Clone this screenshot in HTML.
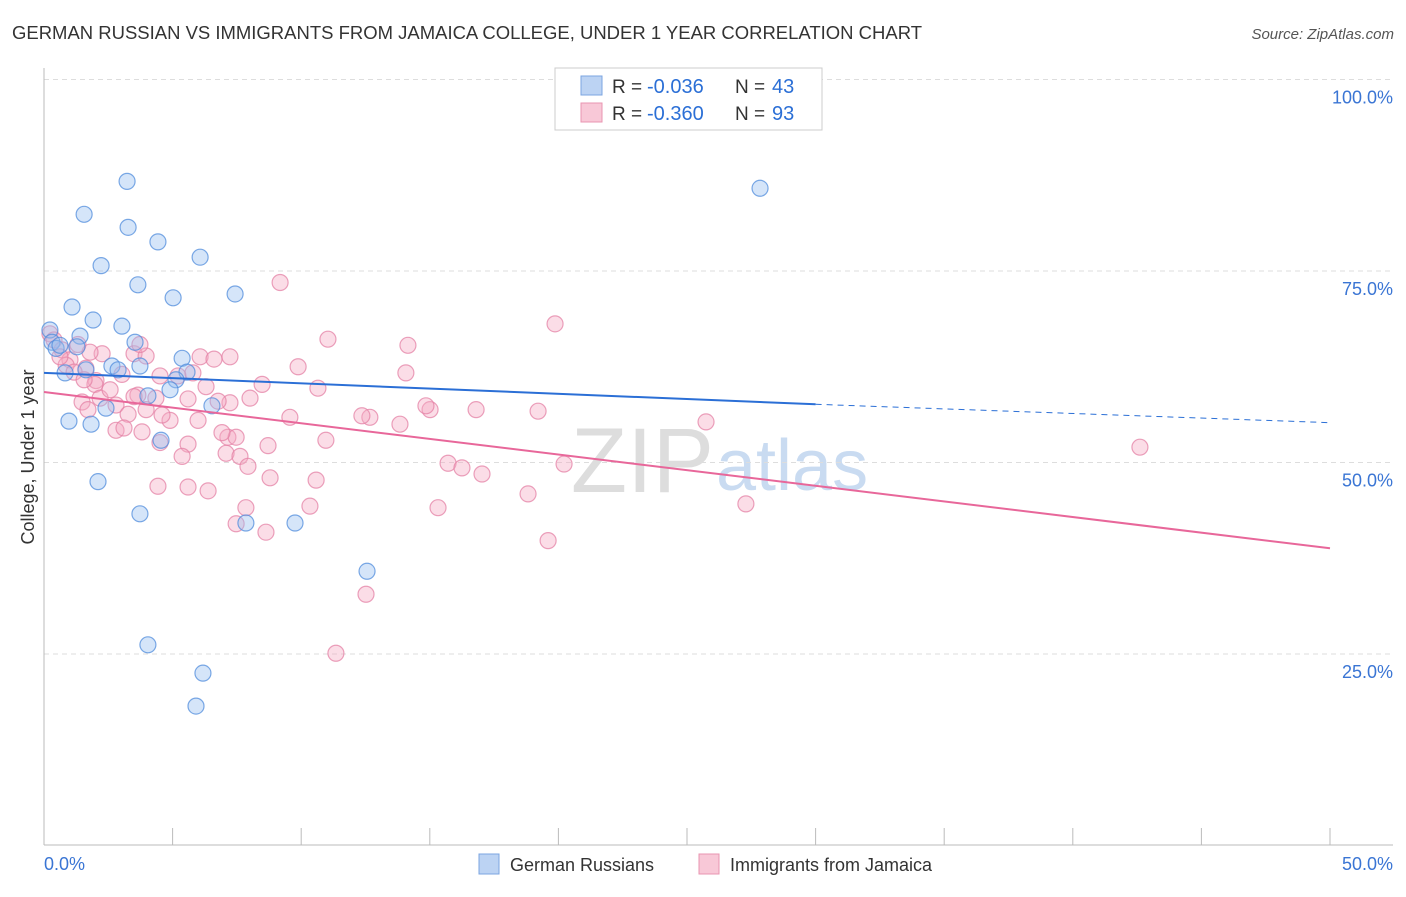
<!DOCTYPE html>
<html><head><meta charset="utf-8"><style>
body{margin:0;background:#fff;font-family:"Liberation Sans",sans-serif}
svg text{font-family:"Liberation Sans",sans-serif}
</style></head><body>
<svg id="chart" width="1406" height="892">
<text x="12" y="39" font-size="18" fill="#333" textLength="910" lengthAdjust="spacingAndGlyphs">GERMAN RUSSIAN VS IMMIGRANTS FROM JAMAICA COLLEGE, UNDER 1 YEAR CORRELATION CHART</text>
<text x="1394" y="39" font-size="15" fill="#555" font-style="italic" text-anchor="end">Source: ZipAtlas.com</text>
<text x="0" y="0" transform="translate(34,457) rotate(-90)" font-size="18" fill="#333" text-anchor="middle">College, Under 1 year</text>
<text x="714" y="492" font-size="92" fill="#ddd" text-anchor="end" font-family="Liberation Serif">ZIP</text>
<text x="716" y="490" font-size="72" fill="#c9dbf1">atlas</text>
<g id="grid"></g><g id="pts"></g><g id="lines"></g>
<g>
<rect x="555" y="68" width="267" height="62" fill="#fff" stroke="#ccc"/>
<rect x="581" y="76" width="21" height="19" fill="#bcd3f3" stroke="#7ba5e0"/>
<rect x="581" y="103" width="21" height="19" fill="#f8c8d7" stroke="#e995b0"/>
<text x="612" y="93" font-size="19" fill="#333">R =</text>
<text x="647" y="93" font-size="20" fill="#2b6fd6">-0.036</text>
<text x="735" y="93" font-size="19" fill="#333">N =</text>
<text x="772" y="93" font-size="20" fill="#2b6fd6">43</text>
<text x="612" y="120" font-size="19" fill="#333">R =</text>
<text x="647" y="120" font-size="20" fill="#2b6fd6">-0.360</text>
<text x="735" y="120" font-size="19" fill="#333">N =</text>
<text x="772" y="120" font-size="20" fill="#2b6fd6">93</text>
</g>
<g>
<rect x="479" y="854" width="20" height="20" fill="#bcd3f3" stroke="#7ba5e0"/>
<text x="510" y="871" font-size="18" fill="#333">German Russians</text>
<rect x="699" y="854" width="20" height="20" fill="#f8c8d7" stroke="#e995b0"/>
<text x="730" y="871" font-size="18" fill="#333">Immigrants from Jamaica</text>
</g>
</svg>
<script>
const yTicks=[25,50,75,100];
const xTickLabels=["0.0%","50.0%"];
const blueX=[3.23,1.56,3.27,4.43,6.07,2.22,3.65,5.02,7.43,1.09,1.91,3.03,0.23,1.40,3.54,0.31,1.28,0.47,5.37,2.64,1.63,0.82,3.73,2.88,5.56,5.13,4.90,4.04,6.53,2.41,0.97,1.83,4.55,2.10,3.73,7.85,9.76,12.56,4.04,6.18,5.91,27.84,0.62];
const blueY=[86.7,82.4,80.7,78.8,76.8,75.7,73.2,71.5,72.0,70.3,68.6,67.8,67.3,66.5,65.7,65.7,65.1,64.9,63.6,62.6,62.1,61.7,62.6,62.1,61.8,60.8,59.5,58.7,57.4,57.1,55.4,55.0,52.9,47.5,43.3,42.1,42.1,35.8,26.2,22.5,18.2,85.8,65.3];
const pinkX=[9.18,19.87,11.04,14.15,0.23,0.39,0.70,2.26,3.50,3.97,6.07,6.61,7.23,9.88,14.07,1.01,0.86,1.63,1.17,3.03,4.51,5.21,5.79,2.02,1.98,8.48,10.65,6.30,3.65,5.60,2.18,2.80,3.50,4.35,7.23,8.01,6.77,1.48,1.71,3.27,3.97,9.56,12.67,12.36,13.84,15.01,14.85,16.80,19.21,25.74,5.99,4.90,4.59,2.80,3.11,3.81,7.15,7.47,6.92,10.96,8.71,5.60,4.51,5.37,7.08,7.62,7.93,15.71,16.25,17.03,20.22,8.79,10.58,4.43,5.60,6.38,10.34,7.85,15.32,18.82,27.29,7.47,8.63,19.60,12.52,11.35,42.61,1.56,2.57,0.62,1.79,1.32,3.73];
const pinkY=[73.5,68.1,66.1,65.3,66.8,66.0,64.7,64.2,64.2,63.9,63.8,63.5,63.8,62.5,61.7,63.4,62.7,62.3,61.8,61.5,61.3,61.3,61.7,60.7,60.2,60.2,59.7,59.9,58.8,58.3,58.4,57.5,58.6,58.4,57.8,58.4,58.0,57.9,56.9,56.3,56.9,55.9,55.9,56.1,55.0,56.9,57.4,56.9,56.7,55.3,55.5,55.5,56.2,54.2,54.5,54.0,53.3,53.3,53.9,52.9,52.2,52.4,52.6,50.8,51.2,50.8,49.5,49.9,49.3,48.5,49.8,48.0,47.7,46.9,46.8,46.3,44.3,44.1,44.1,45.9,44.6,42.0,40.9,39.8,32.8,25.1,52.0,60.8,59.5,63.8,64.4,65.4,65.4];
const blueTrend=[61.7,57.6,55.2];
const pinkTrend=[59.2,38.8];
const NS="http://www.w3.org/2000/svg";
const sx=v=>44+v*25.72, sy=v=>845.5-v*7.66;
function mk(t,a,p){const e=document.createElementNS(NS,t);for(const k in a)e.setAttribute(k,a[k]);p.appendChild(e);return e;}
const grid=document.getElementById('grid');
yTicks.forEach(t=>{
 const l=mk('line',{x1:44,x2:1393,y1:sy(t),y2:sy(t),stroke:'#ddd','stroke-dasharray':'5,4'},grid);
 
 
 const tx=mk('text',{x:1393,y:sy(t)+24,'font-size':18,fill:'#3a75d4','text-anchor':'end'},grid);
 tx.textContent=t.toFixed(1)+'%';
 
 
});
mk('line',{x1:44,x2:44,y1:68,y2:845,stroke:'#bbb'},grid);
mk('line',{x1:44,x2:1393,y1:845,y2:845,stroke:'#bbb'},grid);
for(let i=0;i<=10;i++){const t=mk('line',{x1:sx(i*5),x2:sx(i*5),y1:828,y2:845,stroke:'#bbb'},grid);
 
 }
[[0,'start'],[50,'end']].forEach((d,i)=>{const t=mk('text',{x:d[0]?1393:44,y:870,'font-size':18,fill:'#3a75d4','text-anchor':d[1]},grid);t.textContent=xTickLabels[i];
 
 });
const pts=document.getElementById('pts');
pinkX.forEach((x,i)=>{const c=mk('circle',{cx:sx(x),cy:sy(pinkY[i]),r:8,fill:'rgba(244,170,195,0.4)',stroke:'rgba(228,130,165,0.75)','stroke-width':1.2},pts);
 
 });
blueX.forEach((x,i)=>{const c=mk('circle',{cx:sx(x),cy:sy(blueY[i]),r:8,fill:'rgba(150,190,240,0.4)',stroke:'rgba(80,140,220,0.75)','stroke-width':1.2},pts);
 
 });
const lines=document.getElementById('lines');
const b1=mk('line',{x1:sx(0),y1:sy(blueTrend[0]),x2:sx(30),y2:sy(blueTrend[1]),stroke:'#2b6fd6','stroke-width':2},lines);


const b2=mk('line',{x1:sx(30),y1:sy(blueTrend[1]),x2:sx(50),y2:sy(blueTrend[2]),stroke:'#2b6fd6','stroke-width':1,'stroke-dasharray':'6,5'},lines);


const p1=mk('line',{x1:sx(0),y1:sy(pinkTrend[0]),x2:sx(50),y2:sy(pinkTrend[1]),stroke:'#e8679a','stroke-width':2},lines);


</script>
</body></html>
